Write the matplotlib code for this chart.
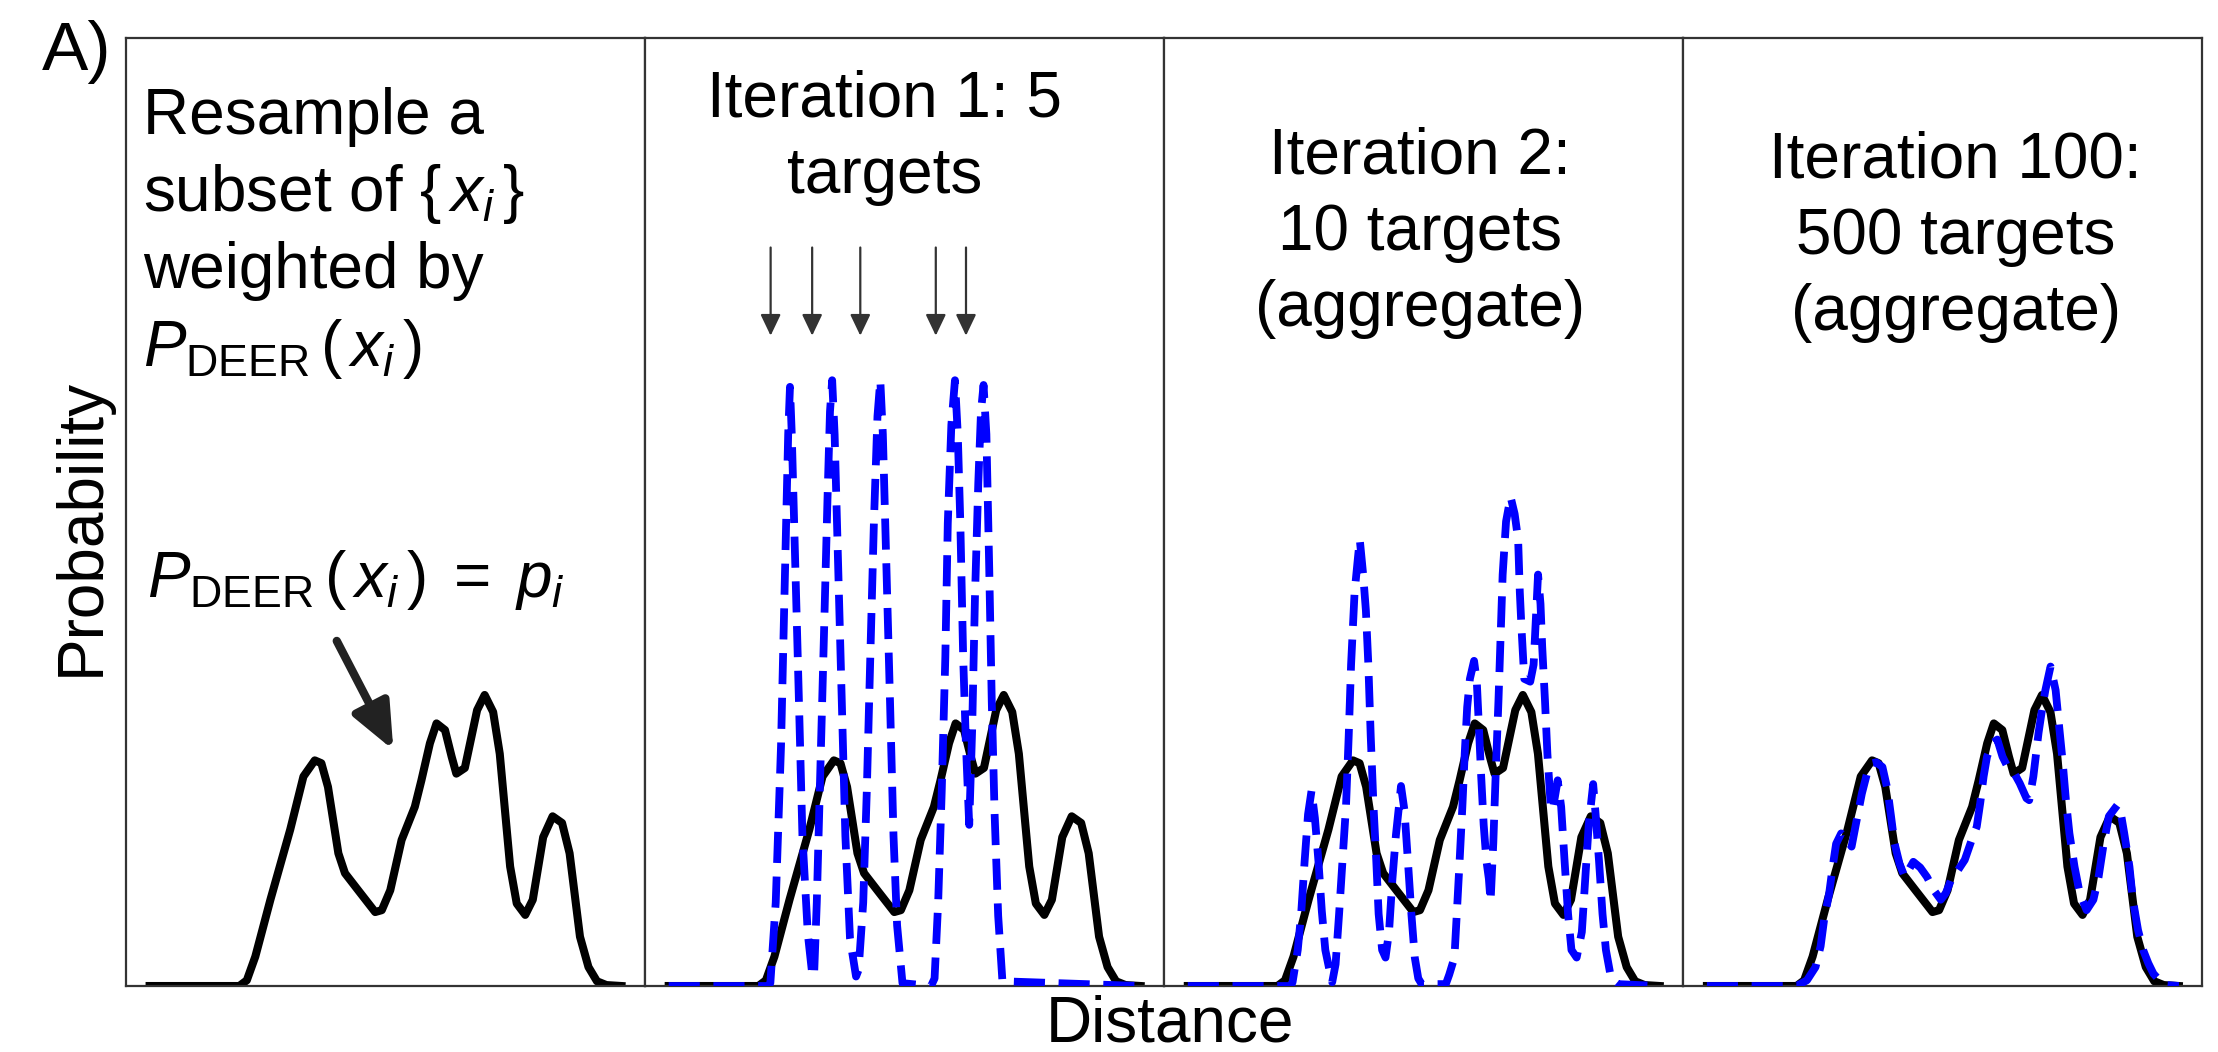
import matplotlib
matplotlib.use("Agg")
import matplotlib.pyplot as plt

plt.rcParams['font.family'] = ['Liberation Sans', 'DejaVu Sans']
plt.rcParams['mathtext.fontset'] = 'custom'
plt.rcParams['mathtext.rm'] = 'Liberation Sans'
plt.rcParams['mathtext.it'] = 'Liberation Sans:italic'
plt.rcParams['mathtext.bf'] = 'Liberation Sans:bold'

# ---------------- data ----------------
# Experimental DEER distance distribution (black curve)
r_deer = [2.00, 2.95, 3.03, 3.12, 3.28, 3.49, 3.63, 3.75, 3.82, 3.89, 4.00, 4.07,
          4.21, 4.39, 4.46, 4.55, 4.67, 4.81, 4.88, 4.97, 5.04, 5.13, 5.20, 5.25,
          5.34, 5.47, 5.55, 5.64, 5.71, 5.82, 5.89, 5.98, 6.06, 6.17, 6.27, 6.37,
          6.45, 6.56, 6.65, 6.74, 6.84, 7.00]
p_deer = [0.000, 0.000, 0.006, 0.031, 0.091, 0.165, 0.221, 0.238, 0.235, 0.210, 0.140, 0.119,
          0.101, 0.078, 0.080, 0.101, 0.154, 0.189, 0.217, 0.256, 0.277, 0.270, 0.242, 0.224,
          0.230, 0.291, 0.307, 0.289, 0.245, 0.126, 0.087, 0.075, 0.091, 0.157, 0.179, 0.172,
          0.140, 0.052, 0.020, 0.005, 0.001, 0.000]

# Iteration 1: 5 targets (blue dashed)
r_iter1 = [2.000, 3.058, 3.077, 3.134, 3.190, 3.228, 3.266, 3.285, 3.304, 3.342, 3.380, 3.417,
           3.474, 3.520, 3.540, 3.569, 3.607, 3.645, 3.682, 3.709, 3.732, 3.758, 3.796, 3.834,
           3.872, 3.921, 3.985, 4.012, 4.061, 4.099, 4.136, 4.174, 4.212, 4.242, 4.269, 4.307,
           4.345, 4.382, 4.420, 4.477, 4.780, 4.817, 4.855, 4.893, 4.931, 4.957, 4.995, 5.033,
           5.063, 5.090, 5.120, 5.150, 5.184, 5.215, 5.245, 5.280, 5.309, 5.336, 5.366, 5.396,
           5.423, 5.453, 5.491, 5.536, 7.000]
p_iter1 = [0.000, 0.000, 0.003, 0.088, 0.253, 0.418, 0.582, 0.632, 0.582, 0.441, 0.300, 0.158,
           0.055, 0.013, 0.010, 0.088, 0.229, 0.370, 0.512, 0.606, 0.639, 0.582, 0.441, 0.300,
           0.158, 0.050, 0.010, 0.017, 0.088, 0.206, 0.347, 0.488, 0.601, 0.639, 0.582, 0.441,
           0.300, 0.158, 0.064, 0.003, 0.000, 0.008, 0.088, 0.206, 0.347, 0.488, 0.592, 0.639,
           0.582, 0.488, 0.347, 0.253, 0.170, 0.270, 0.410, 0.530, 0.606, 0.634, 0.582, 0.441,
           0.300, 0.182, 0.074, 0.005, 0.000]

# Iteration 2: 10 targets (aggregate)
r_iter2 = [2.000, 3.092, 3.110, 3.165, 3.201, 3.238, 3.274, 3.311, 3.347, 3.384, 3.420, 3.457,
           3.511, 3.530, 3.566, 3.603, 3.639, 3.676, 3.705, 3.730, 3.767, 3.803, 3.822, 3.858,
           3.887, 3.913, 3.938, 3.968, 3.997, 4.022, 4.059, 4.095, 4.132, 4.168, 4.205, 4.241,
           4.259, 4.296, 4.332, 4.369, 4.405, 4.442, 4.478, 4.734, 4.770, 4.825, 4.850, 4.880,
           4.909, 4.934, 4.960, 4.989, 5.033, 5.062, 5.080, 5.106, 5.135, 5.164, 5.190, 5.208,
           5.237, 5.263, 5.292, 5.317, 5.336, 5.372, 5.420, 5.463, 5.500, 5.518, 5.536, 5.565,
           5.628, 5.664, 5.711, 5.737, 5.755, 5.784, 5.810, 5.846, 5.865, 5.919, 5.956, 5.992,
           6.029, 6.065, 6.120, 6.175, 6.211, 6.248, 6.295, 6.321, 6.357, 6.394, 6.430, 6.485,
           6.558, 7.000]
p_iter2 = [0.000, 0.000, 0.004, 0.038, 0.076, 0.132, 0.181, 0.206, 0.177, 0.132, 0.079, 0.038,
           0.012, 0.004, 0.023, 0.076, 0.132, 0.189, 0.264, 0.339, 0.415, 0.452, 0.471, 0.434,
           0.396, 0.339, 0.264, 0.189, 0.132, 0.076, 0.038, 0.030, 0.057, 0.113, 0.159, 0.193,
           0.211, 0.185, 0.132, 0.076, 0.030, 0.008, 0.002, 0.002, 0.012, 0.030, 0.076, 0.132,
           0.189, 0.245, 0.294, 0.324, 0.343, 0.321, 0.283, 0.226, 0.170, 0.132, 0.113, 0.089,
           0.151, 0.226, 0.302, 0.377, 0.434, 0.490, 0.516, 0.498, 0.471, 0.415, 0.377, 0.324,
           0.321, 0.339, 0.434, 0.403, 0.358, 0.302, 0.245, 0.189, 0.185, 0.217, 0.189, 0.132,
           0.076, 0.038, 0.030, 0.057, 0.113, 0.170, 0.213, 0.181, 0.132, 0.076, 0.038, 0.008,
           0.002, 0.000]

# Iteration 100: 500 targets (aggregate)
r_iter100 = [2.000, 2.951, 3.060, 3.151, 3.205, 3.242, 3.296, 3.333, 3.369, 3.423, 3.478, 3.533,
             3.587, 3.642, 3.696, 3.751, 3.794, 3.860, 3.914, 3.951, 3.987, 4.041, 4.096, 4.187,
             4.260, 4.332, 4.405, 4.478, 4.532, 4.587, 4.659, 4.732, 4.805, 4.859, 4.896, 4.932,
             4.968, 5.023, 5.077, 5.132, 5.186, 5.259, 5.314, 5.386, 5.415, 5.459, 5.514, 5.550,
             5.586, 5.641, 5.695, 5.732, 5.768, 5.804, 5.841, 5.895, 5.950, 6.023, 6.095, 6.150,
             6.204, 6.259, 6.350, 6.386, 6.422, 6.477, 6.513, 6.568, 6.622, 6.677, 6.731, 6.804,
             6.877, 7.000]
p_iter100 = [0.000, 0.000, 0.006, 0.020, 0.042, 0.070, 0.098, 0.126, 0.150, 0.161, 0.155, 0.147,
             0.175, 0.203, 0.224, 0.235, 0.236, 0.231, 0.207, 0.179, 0.151, 0.129, 0.115, 0.131,
             0.125, 0.115, 0.101, 0.091, 0.098, 0.112, 0.122, 0.133, 0.154, 0.168, 0.193, 0.221,
             0.242, 0.256, 0.260, 0.242, 0.231, 0.224, 0.214, 0.198, 0.196, 0.221, 0.267, 0.291,
             0.312, 0.337, 0.312, 0.274, 0.238, 0.196, 0.161, 0.126, 0.098, 0.080, 0.091, 0.115,
             0.150, 0.179, 0.191, 0.182, 0.161, 0.126, 0.091, 0.059, 0.038, 0.024, 0.013, 0.005,
             0.001, 0.000]

# distances of the 5 targets picked in iteration 1 (arrows)
target_r = [3.08, 3.52, 4.03, 4.83, 5.15]

panel_titles = [
    None,
    ["Iteration 1: 5", "targets"],
    ["Iteration 2:", "10 targets", "(aggregate)"],
    ["Iteration 100:", "500 targets", "(aggregate)"],
]
panel_text = ["Resample a", r"subset of $\{\,x_i\,\}$", "weighted by",
              r"$P_{\mathrm{DEER}}\,(\,x_i\,)$"]
eq_text = r"$P_{\mathrm{DEER}}\,(\,x_i\,)\;=\;p_i$"
blue_series = [None, (r_iter1, p_iter1), (r_iter2, p_iter2), (r_iter100, p_iter100)]

# ---------------- figure ----------------
W, H = 2218, 1052
fig = plt.figure(figsize=(W / 100, H / 100), dpi=100)

ax_left, ax_w, ax_bot, ax_h = 126, 519.1, 66, 948
FS = 46
spine_col = '#333333'
blue_ls = (0, (4.0, 1.75))

title_x = [None, 0.461, 0.493, 0.525]
title_base = [None, [117, 193], [173.6, 249.6, 325.6], [177.6, 253.6, 329.6]]

axes = []
for k in range(4):
    ax = fig.add_axes([(ax_left + k * ax_w) / W, ax_bot / H, ax_w / W, ax_h / H])
    axes.append(ax)
    ax.plot(r_deer, p_deer, color='black', lw=5.8, solid_joinstyle='round', zorder=2)
    if blue_series[k] is not None:
        rb, pb = blue_series[k]
        ax.plot(rb, pb, color='#0000ff', lw=5.6, linestyle=blue_ls, zorder=3)
    ax.set_xlim(1.75, 7.25)
    ax.set_ylim(0, 1.0)
    ax.set_xticks([])
    ax.set_yticks([])
    for s in ax.spines.values():
        s.set_color(spine_col)
        s.set_linewidth(1.6)
    if panel_titles[k] is not None:
        for line, yb in zip(panel_titles[k], title_base[k]):
            ax.text(title_x[k], (986 - yb) / ax_h, line, transform=ax.transAxes,
                    ha='center', va='baseline', fontsize=FS)

# panel 1 annotation text
ax0 = axes[0]
for line, yb in zip(panel_text, [134, 211, 288.5, 366]):
    ax0.text(0.033, (986 - yb) / ax_h, line, transform=ax0.transAxes,
             ha='left', va='baseline', fontsize=FS)
ax0.text(0.040, (986 - 597) / ax_h, eq_text,
         transform=ax0.transAxes, ha='left', va='baseline', fontsize=FS)
ax0.annotate('', xy=(0.515, 0.249), xytext=(0.406, 0.364),
             xycoords='axes fraction', textcoords='axes fraction',
             arrowprops=dict(arrowstyle='-|>,head_length=1.4,head_width=0.6',
                             mutation_scale=20, lw=6, color='#222222',
                             shrinkA=0, shrinkB=0))

# target arrows in panel 2
ax1 = axes[1]
for tr in target_r:
    ax1.annotate('', xy=(tr, 0.686), xytext=(tr, 0.779),
                 xycoords=('data', 'axes fraction'), textcoords=('data', 'axes fraction'),
                 arrowprops=dict(arrowstyle='-|>,head_length=0.65,head_width=0.31',
                                 mutation_scale=20, lw=1.6, color='#333333',
                                 shrinkA=0, shrinkB=0))

# labels
fig.text(42 / W, 1 - 70.4 / H, 'A)', ha='left', va='baseline', fontsize=50)
fig.text(81.5 / W, 1 - 526.6 / H, 'Probability', rotation=90, ha='center', va='center',
         fontsize=FS)
fig.text(1170 / W, 1 - 995 / H, 'Distance', ha='center', va='top', fontsize=FS)

fig.savefig('out.png', dpi=100)
